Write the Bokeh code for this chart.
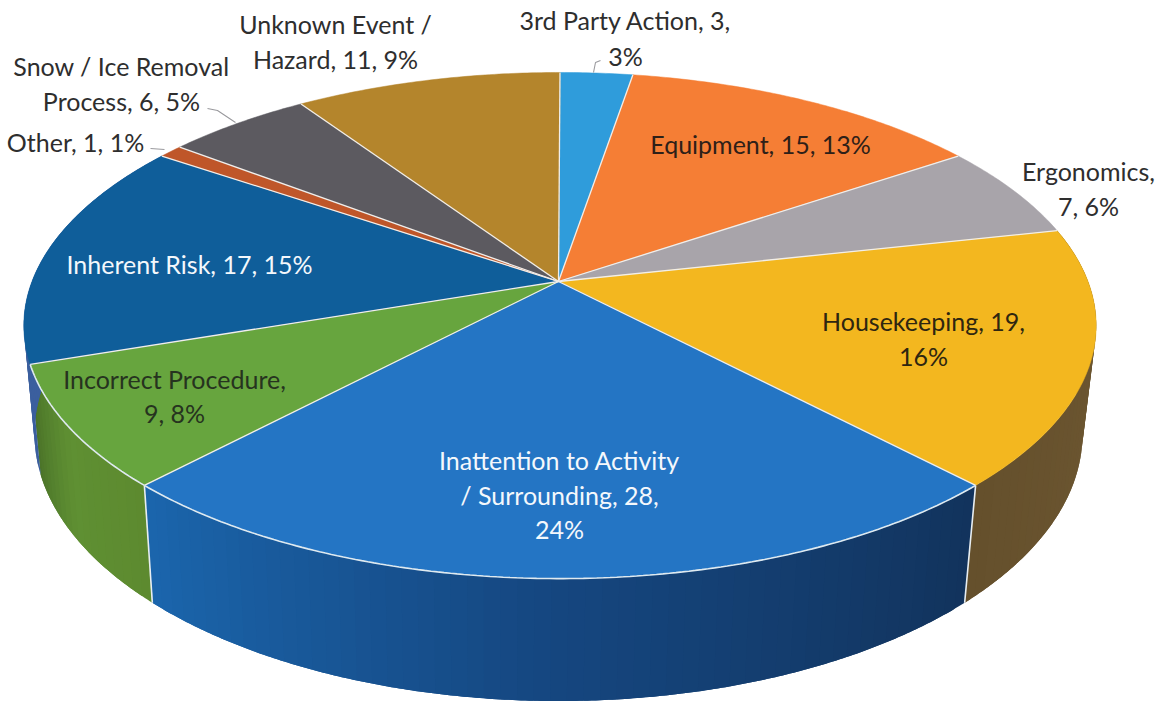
import math
from bokeh.plotting import figure
from bokeh.core.properties import value
from bokeh.embed import file_html
from bokeh.resources import INLINE

# ---- data ----
categories = ["3rd Party Action", "Equipment", "Ergonomics", "Housekeeping",
              "Inattention to Activity / Surrounding", "Incorrect Procedure",
              "Inherent Risk", "Other", "Snow / Ice Removal Process", "Unknown Event / Hazard"]
counts = [3, 15, 7, 19, 28, 9, 17, 1, 6, 11]
percents = [3, 13, 6, 16, 24, 8, 15, 1, 5, 9]

label_lines = [
    ["3rd Party Action, 3,", "3%"],
    ["Equipment, 15, 13%"],
    ["Ergonomics,", "7, 6%"],
    ["Housekeeping, 19,", "16%"],
    ["Inattention to Activity", "/ Surrounding, 28,", "24%"],
    ["Incorrect Procedure,", "9, 8%"],
    ["Inherent Risk, 17, 15%"],
    ["Other, 1, 1%"],
    ["Snow / Ice Removal", "Process, 6, 5%"],
    ["Unknown Event /", "Hazard, 11, 9%"],
]

# ---- styles and layout ----
face_colors = ["#2f9cdb", "#f57e35", "#a8a4aa", "#f3b71f", "#2475c4",
               "#67a53e", "#0f5e9a", "#bf5629", "#5c5a60", "#b4852c"]
wall_stops = {
    3: ["#6e5932", "#6b5530", "#65502c"],
    4: ["#12335c", "#15467f", "#1b66ad"],
    5: ["#5d8a2f", "#5f9033", "#4a7228"],
    6: ["#3b5f9e", "#3b5f9e", "#3b5f9e"],
}
label_pos = [
    (625, [19, 55]), (760, [143]), (1088, [170, 205]), (923, [320, 355]),
    (559, [459, 494, 528]), (174, [378, 412]), (189, [263]), (75, [141]),
    (121, [65, 100]), (335, [23, 58]),
]
label_color = ["#2e2e2e", "#2e2018", "#2e2e2e", "#2e2610", "#f4f8fc",
               "#26331f", "#f4f8fc", "#2e2e2e", "#2e2e2e", "#2e2e2e"]
FONT_SIZE = "25px"

# perspective projection of the pie disc
APEX = (558, 281)
TOP = dict(x0=559.5, y0=281, a=528, b=245.4, k=0.174)
BOT = dict(x0=558, y0=387, a=516, b=259, k=0.174)


def proj(t, s):
    u, v = math.sin(t), math.cos(t)
    w = 1 + s["k"] * v
    return s["x0"] + s["a"] * u / w, s["y0"] - s["b"] * v / w


def arc(t1, t2, s, step=0.6):
    n = max(2, int(math.degrees(t2 - t1) / step) + 1)
    return [proj(t1 + (t2 - t1) * i / n, s) for i in range(n + 1)]


def hex2rgb(c):
    return tuple(int(c[i:i + 2], 16) for i in (1, 3, 5))


def lerp_stops(stops, f):
    pos = f * (len(stops) - 1)
    i = min(int(pos), len(stops) - 2)
    a, b = hex2rgb(stops[i]), hex2rgb(stops[i + 1])
    g = pos - i
    return "#%02x%02x%02x" % tuple(round(a[j] + (b[j] - a[j]) * g) for j in range(3))


total = sum(counts)
edges = [0.0]
for c in counts:
    edges.append(edges[-1] + 2 * math.pi * c / total)

p = figure(width=1160, height=702, x_range=(0, 1160), y_range=(702, 0),
           output_backend="svg", toolbar_location=None, min_border=0,
           background_fill_color="white", border_fill_color="white", outline_line_color=None)
p.axis.visible = False
p.grid.visible = False

# walls: overlapping strips, each painted over the last, so the shade changes along the rim
for idx, stops in wall_stops.items():
    t1, t2 = edges[idx], edges[idx + 1]
    n = max(4, int(math.degrees(t2 - t1) / 1.5))
    wx, wy, wc = [], [], []
    for i in range(n):
        a = t1 + (t2 - t1) * i / n
        b = t1 + (t2 - t1) * min(i + 2, n) / n
        pts = arc(a, b, TOP, 0.4) + arc(a, b, BOT, 0.4)[::-1]
        wx.append([c[0] for c in pts])
        wy.append([c[1] for c in pts])
        wc.append(lerp_stops(stops, (i + 0.5) / n))
    p.patches(wx, wy, fill_color=wc, line_color=None)

# wall dividers
for i in (4, 5):
    t = edges[i]
    a, b = proj(t, TOP), proj(t, BOT)
    p.line([a[0], b[0]], [a[1], b[1]], line_color="#e8eef2", line_width=1.6)

# top faces
fx, fy = [], []
for i in range(len(counts)):
    pts = [APEX] + arc(edges[i], edges[i + 1], TOP)
    fx.append([c[0] for c in pts])
    fy.append([c[1] for c in pts])
p.patches(fx, fy, fill_color=face_colors, line_color=face_colors, line_width=0.5)

# radial separators
for t in edges[:-1]:
    e = proj(t, TOP)
    p.line([APEX[0], e[0]], [APEX[1], e[1]], line_color="#f1eeea", line_width=1.3)

# pale rim along the front slices
for i in (4, 5):
    pts = arc(edges[i], edges[i + 1], TOP)
    p.line([c[0] for c in pts], [c[1] for c in pts], line_color="#dfeaf0", line_width=1.6)

# leader lines
leaders = {0: ([600, 595, 593], [60, 62, 72]),
           7: ([150, 164], [148, 149]),
           8: ([207, 217, 235], [108, 110, 122])}
for i, (lx, ly) in leaders.items():
    p.line(lx, ly, line_color="#9a9a9e", line_width=1.1)

# labels
for i, lines in enumerate(label_lines):
    x, ys = label_pos[i]
    p.text([x] * len(lines), ys, text=lines, text_align="center", text_baseline="middle",
           text_font=value("Lato"), text_font_size=value(FONT_SIZE), text_color=label_color[i])

open("out.html", "w").write(file_html(p, INLINE))
